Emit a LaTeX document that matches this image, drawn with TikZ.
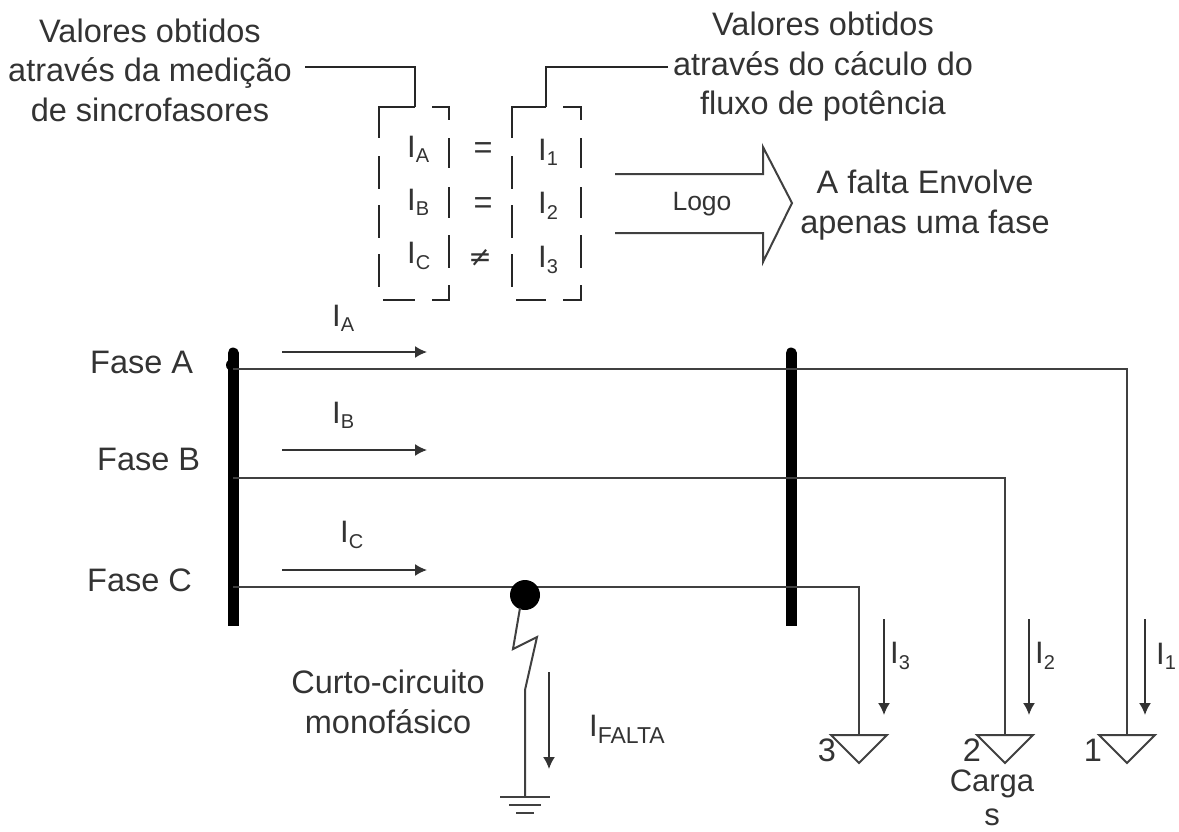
\documentclass[tikz,border=0pt]{standalone}
\usepackage{fontspec}
\setmainfont{Liberation Sans}
\usetikzlibrary{arrows.meta,calc}
\definecolor{ink}{HTML}{333333}
\tikzset{
  x=1pt,y=-1pt,
  txt/.style={inner sep=0pt,text=ink,font=\fontsize{32.5}{39.5}\selectfont,align=center},
  cur/.style={inner sep=0pt,text=ink,font=\fontsize{31}{36}\selectfont,anchor=west},
  wire/.style={draw=black!75,line width=2pt},
  thin wire/.style={draw=black!85,line width=1.7pt},
  bus/.style={draw=black,line width=11pt},
  flow/.style={draw=black!80,line width=1.7pt,-{Latex[length=12pt,width=12pt]}},
  dash seg/.style={draw=black!85,line width=2pt},
}
\newcommand{\cursym}[2][20]{I\textsubscript{\fontsize{#1}{#1}\selectfont #2}}
\begin{document}
\begin{tikzpicture}
\useasboundingbox (0,0) rectangle (1179,831);
% top texts
\node[txt] (medicao) at (150,70) {Valores obtidos\\através da medição\\de sincrofasores};
\node[txt] (calculo) at (823,67) {Valores obtidos\\através do cáculo do\\fluxo de potência};
\node[txt] (concl) at (925,205) {A falta Envolve\\apenas uma fase};
\node[txt,font=\fontsize{26.5}{30}\selectfont] (logo) at (702,204) {Logo};
% leaders
\coordinate (l1a) at (305,67); \coordinate (l1b) at (415,67); \coordinate (l1c) at (415,107);
\coordinate (l2a) at (668,67); \coordinate (l2b) at (546,67); \coordinate (l2c) at (546,107);
\draw[thin wire] (l1a) -- (l1b) -- (l1c);
\draw[thin wire] (l2a) -- (l2b) -- (l2c);
% dashed brackets
\foreach \xl/\xr/\xm in {379/449/415,512/581/546}{
  \draw[dash seg] (\xm,107) -- (\xl,107) -- (\xl,138);
  \draw[dash seg] (\xl,156) -- (\xl,189);
  \draw[dash seg] (\xl,205) -- (\xl,238);
  \draw[dash seg] (\xl,254) -- (\xl,287);
  \draw[dash seg] (\xm+17,107) -- (\xr,107) -- (\xr,120);
  \draw[dash seg] (\xr,138) -- (\xr,168);
  \draw[dash seg] (\xr,187) -- (\xr,218);
  \draw[dash seg] (\xr,235) -- (\xr,268);
  \draw[dash seg] (\xl+4,300) -- (\xm,300);
  \draw[dash seg] (\xm+17,300) -- (\xr,300) -- (\xr,285);
}
% matrix entries
\node[cur] (ma) at (407,149) {\cursym{A}};
\node[cur] (mb) at (407,202) {\cursym{B}};
\node[cur] (mc) at (407,256) {\cursym{C}};
\node[txt] (eq1) at (483,151) {=};
\node[txt] (eq2) at (483,206) {=};
\node[txt,font=\fontsize{28}{30}\selectfont] (eq3) at (480,258) {\fontspec{DejaVu Sans}≠};
\node[cur] (m1) at (538,152) {\cursym{1}};
\node[cur] (m2) at (538,206) {\cursym{2}};
\node[cur] (m3) at (538,260) {\cursym{3}};
% big arrow
\coordinate (ba) at (615,174); \coordinate (bb) at (763,174); \coordinate (bc) at (763,147);
\coordinate (bd) at (792,203); \coordinate (be) at (763,262); \coordinate (bf) at (763,233); \coordinate (bg) at (615,233);
\draw[wire,line join=miter] (ba) -- (bb) -- (bc) -- (bd) -- (be) -- (bf) -- (bg);
% buses
\coordinate (bl1) at (233,348); \coordinate (bl2) at (233,626);
\coordinate (br1) at (791,348); \coordinate (br2) at (791,626);
\draw[bus,line cap=round] ($(bl1)+(0,5)$) -- ($(bl1)+(0,20)$);
\draw[bus] ($(bl1)+(0,6)$) -- (bl2);
\draw[bus,line cap=round] ($(br1)+(0,5)$) -- ($(br1)+(0,20)$);
\draw[bus] ($(br1)+(0,6)$) -- (br2);
\fill[black] (232,365) circle (6);
% phase wires and loads
\coordinate (a0) at (233,369); \coordinate (a1) at (1127,369); \coordinate (a2) at (1127,735);
\coordinate (b0) at (233,478); \coordinate (b1) at (1005,478); \coordinate (b2) at (1005,735);
\coordinate (c0) at (233,587); \coordinate (c1) at (859,587); \coordinate (c2) at (859,735);
\draw[wire] (a0) -- (a1) -- (a2);
\draw[wire] (b0) -- (b1) -- (b2);
\draw[wire] (c0) -- (c1) -- (c2);
\foreach \p in {a2,b2,c2}{
  \draw[wire,line join=miter] ($(\p)+(-28,0)$) -- ($(\p)+(28,0)$) -- ($(\p)+(0,28)$) -- cycle;
}
% flow arrows
\coordinate (fa0) at (282,352); \coordinate (fa1) at (427,352);
\coordinate (fb0) at (282,450); \coordinate (fb1) at (427,450);
\coordinate (fc0) at (282,570); \coordinate (fc1) at (427,570);
\draw[flow] (fa0) -- (fa1);
\draw[flow] (fb0) -- (fb1);
\draw[flow] (fc0) -- (fc1);
\node[cur] (ia) at (332,318) {\cursym{A}};
\node[cur] (ib) at (332,415) {\cursym{B}};
\node[cur] (ic) at (340,535) {\cursym{C}};
\node[txt,anchor=west] (fasea) at (90,362) {Fase A};
\node[txt,anchor=west] (faseb) at (97,459) {Fase B};
\node[txt,anchor=west] (fasec) at (87,580) {Fase C};
% load arrows
\coordinate (d30) at (884,619); \coordinate (d31) at (884,715);
\coordinate (d20) at (1029,619); \coordinate (d21) at (1029,715);
\coordinate (d10) at (1145,619); \coordinate (d11) at (1145,715);
\draw[flow] (d30) -- (d31);
\draw[flow] (d20) -- (d21);
\draw[flow] (d10) -- (d11);
\node[cur] (i3) at (890,656) {\cursym{3}};
\node[cur] (i2) at (1035,656) {\cursym{2}};
\node[cur] (i1) at (1156,656) {\cursym{1}};
\node[txt] (n3) at (827,750) {3};
\node[txt] (n2) at (972,750) {2};
\node[txt] (n1) at (1093,750) {1};
\node[txt,font=\fontsize{31}{36}\selectfont] (carga) at (992,784) {Carga};
\node[txt,font=\fontsize{31}{36}\selectfont] (cargas) at (992,817) {s};
% fault
\node[circle,fill=black,inner sep=0pt,minimum size=30pt] (fault) at (525,595) {};
\coordinate (z0) at (520,608); \coordinate (z1) at (513,649); \coordinate (z2) at (537,637); \coordinate (z3) at (525,690); \coordinate (gnd) at (525,797);
\draw[wire,line join=miter] (z0) -- (z1) -- (z2) -- (z3) -- (gnd);
\draw[wire] ($(gnd)+(-25,0)$) -- ($(gnd)+(25,0)$);
\draw[wire] ($(gnd)+(-16,8)$) -- ($(gnd)+(16,8)$);
\draw[wire] ($(gnd)+(-9,16)$) -- ($(gnd)+(9,16)$);
\coordinate (ff0) at (549,672); \coordinate (ff1) at (549,769);
\draw[flow] (ff0) -- (ff1);
\node[txt] (curto) at (388,702) {Curto-circuito\\monofásico};
\node[cur] (ifalta) at (589,729) {\cursym[23]{FALTA}};
\end{tikzpicture}
\end{document}
